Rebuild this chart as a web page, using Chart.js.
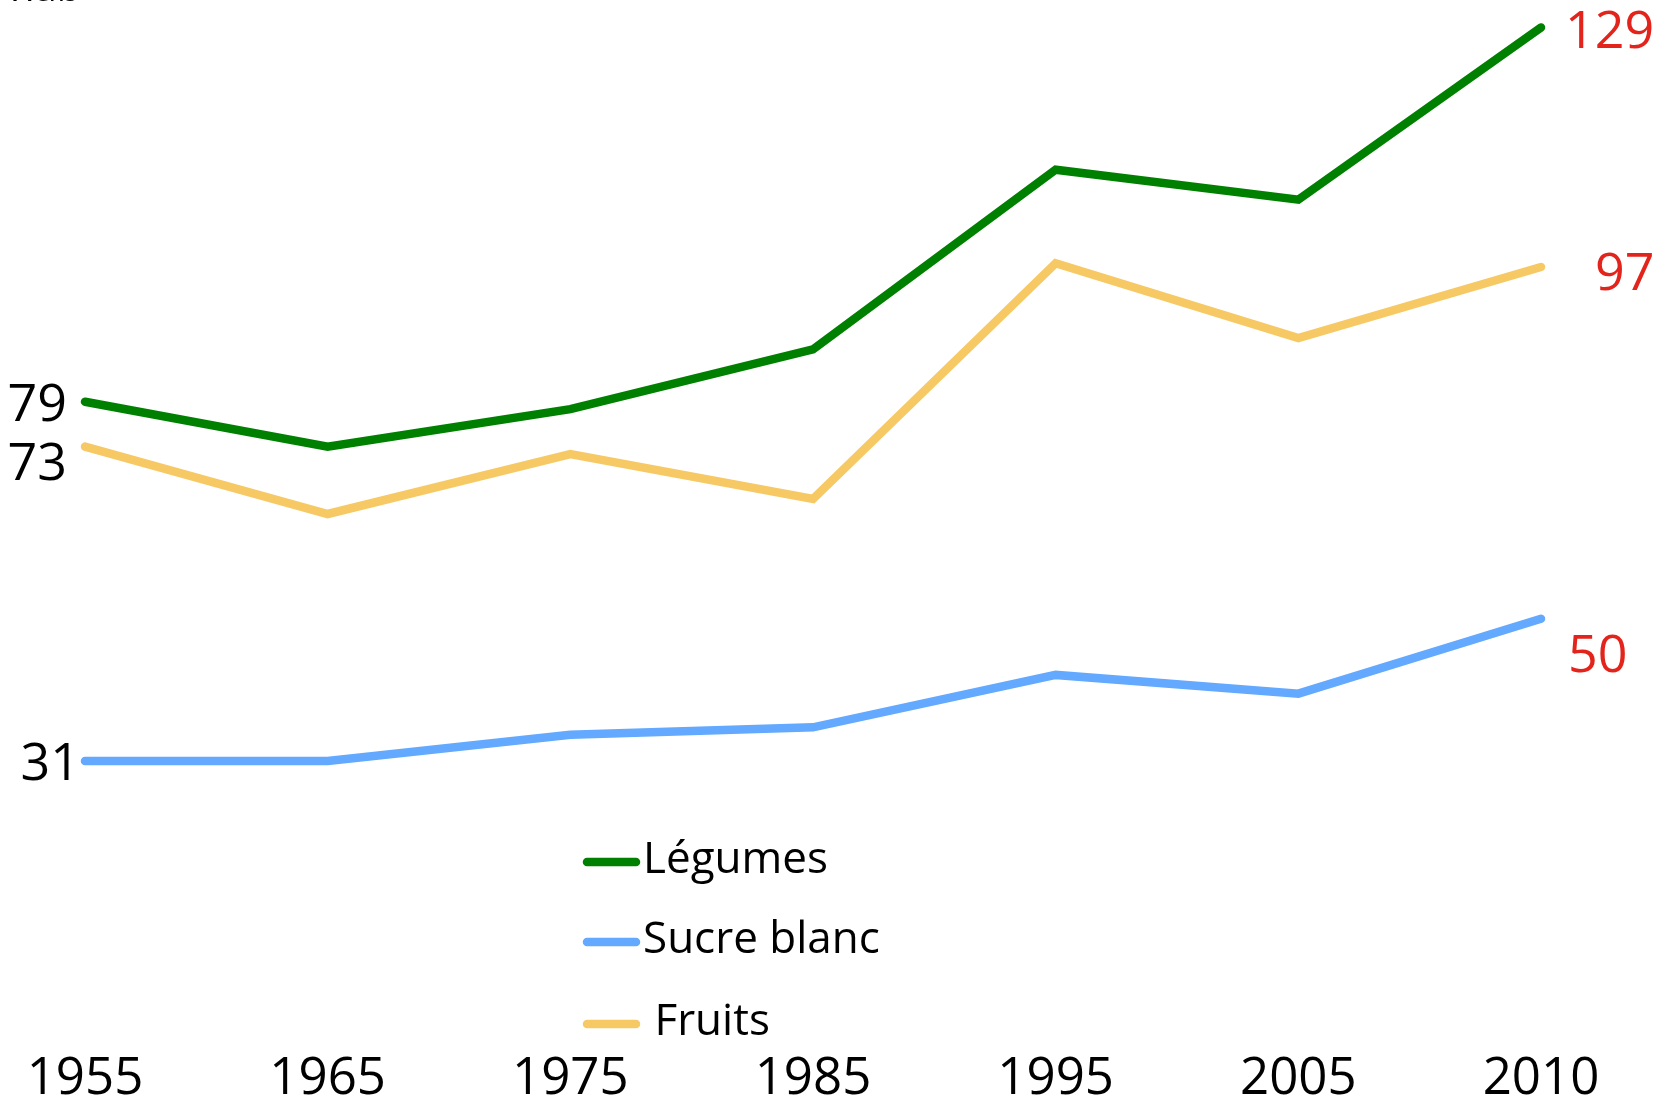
<!DOCTYPE html>
<html>
<head>
<meta charset="utf-8">
<script src="https://cdn.jsdelivr.net/npm/chart.js@4"></script>
<style>
  html, body { margin: 0; padding: 0; background: #fff; }
  canvas { display: block; }
</style>
</head>
<body>
<canvas id="chart" width="1658" height="1101"></canvas>
<script>
// données (kg / hab)
const annees = ['1955', '1965', '1975', '1985', '1995', '2005', '2010'];
const legumes = [79, 73, 78, 86, 110, 106, 129];
const sucreBlanc = [31, 31, 34.5, 35.5, 42.5, 40, 50];
const fruits = [73, 64, 72, 66, 97.5, 87.5, 97];

const FONT = '"Open Sans", "DejaVu Sans", sans-serif';

// décalages des étiquettes (début / fin de courbe), dans l'ordre des séries
const decalDebut = [[-18, 4], [-5, 4], [-18, 19]];
const decalFin = [[24, 6], [27, 38], [54, 8]];

const etiquettes = {
    id: 'etiquettes',
    afterDatasetsDraw(chart) {
        const ctx = chart.ctx;
        const x = chart.scales.x, y = chart.scales.y;
        ctx.save();
        ctx.font = '52px ' + FONT;
        ctx.textBaseline = 'middle';
        chart.data.datasets.forEach((ds, i) => {
            const n = ds.data.length - 1;
            // valeur de départ, en noir, à gauche
            ctx.fillStyle = '#000';
            ctx.textAlign = 'right';
            ctx.fillText(String(ds.data[0]), x.getPixelForValue(0) + decalDebut[i][0], y.getPixelForValue(ds.data[0]) + decalDebut[i][1]);
            // valeur finale, en rouge, à droite
            ctx.fillStyle = '#e3241c';
            ctx.textAlign = 'left';
            ctx.fillText(String(ds.data[n]), x.getPixelForValue(n) + decalFin[i][0], y.getPixelForValue(ds.data[n]) + decalFin[i][1]);
        });
        // unité, coupée en haut
        ctx.fillStyle = '#000';
        ctx.textAlign = 'left';
        ctx.textBaseline = 'alphabetic';
        ctx.font = '40px ' + FONT;
        ctx.fillText('hab', 10, 1);
        ctx.restore();
    }
};

const legende = {
    id: 'legende',
    afterDraw(chart) {
        const ctx = chart.ctx;
        const ys = [862, 942, 1024];
        ctx.save();
        ctx.font = '44px ' + FONT;
        ctx.textBaseline = 'middle';
        ctx.lineCap = 'round';
        chart.data.datasets.forEach((ds, i) => {
            ctx.strokeStyle = ds.borderColor;
            ctx.lineWidth = 8.5;
            ctx.beginPath();
            ctx.moveTo(587, ys[i]);
            ctx.lineTo(636, ys[i]);
            ctx.stroke();
            ctx.fillStyle = '#000';
            ctx.fillText(ds.label, 643, ys[i] - 2);
        });
        ctx.restore();
    }
};

const serie = (label, data, color) => ({
    label, data,
    borderColor: color,
    borderWidth: 8.5,
    borderCapStyle: 'round',
    borderJoinStyle: 'miter',
    pointRadius: 0,
    tension: 0,
    clip: false
});

new Chart(document.getElementById('chart'), {
    type: 'line',
    data: {
        labels: annees,
        datasets: [
            serie('Légumes', legumes, '#008000'),
            serie('Sucre blanc', sucreBlanc, '#63a9ff'),
            serie(' Fruits', fruits, '#f6c965')
        ]
    },
    options: {
        responsive: false,
        animation: false,
        layout: { autoPadding: false, padding: { left: 85, right: 117, top: 20, bottom: -65 } },
        plugins: { legend: { display: false }, tooltip: { enabled: false } },
        scales: {
            x: {
                offset: false,
                grid: { display: false, drawTicks: false },
                border: { display: false },
                // pas de marge automatique pour les libellés extrêmes
                afterFit: (scale) => { scale.paddingLeft = 0; scale.paddingRight = 0; },
                ticks: {
                    color: '#000',
                    font: { family: FONT, size: 51, lineHeight: 1 },
                    padding: 61,
                    maxRotation: 0,
                    autoSkip: false
                }
            },
            y: { display: false, min: 0, max: 130 }
        }
    },
    plugins: [etiquettes, legende]
});
</script>
</body>
</html>
